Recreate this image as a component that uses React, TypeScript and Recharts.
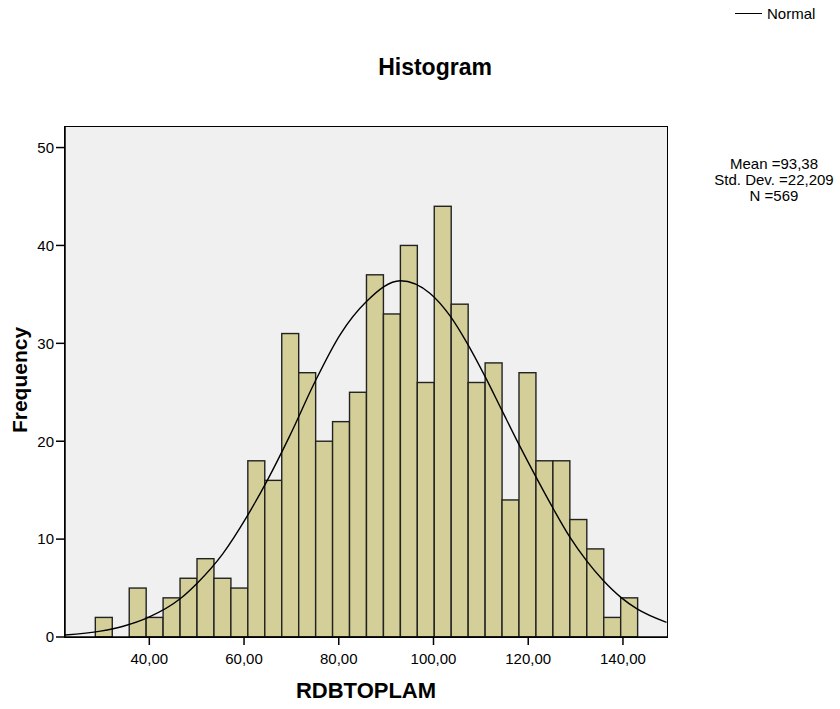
import React from "react";
import {
  ComposedChart,
  Bar,
  Line,
  XAxis,
  YAxis,
  CartesianGrid,
} from "recharts";

// bin centres (RDBTOPLAM) and counts
const binCenters = [
  30.39, 33.97, 37.55, 41.12, 44.7, 48.28, 51.86, 55.44, 59.01, 62.59, 66.17,
  69.75, 73.33, 76.91, 80.48, 84.06, 87.64, 91.22, 94.8, 98.37, 101.95, 105.53,
  109.11, 112.69, 116.26, 119.84, 123.42, 127.0, 130.58, 134.16, 137.73, 141.31,
];
const binCounts = [
  2, 0, 5, 2, 4, 6, 8, 6, 5, 18, 16, 31, 27, 20, 22, 25, 37, 33, 40, 26, 44, 34,
  26, 28, 14, 27, 18, 18, 12, 9, 2, 4,
];
const BIN_WIDTH = 3.578;

// normal curve, points
const curveX = [
  22.2, 29.7, 34.5, 39.8, 46.5, 50.1, 55.5, 60.6, 64.8, 69.7, 75.0, 80.3,
  85.9, 93.0, 99.3, 103.5, 107.0, 110.9, 114.4, 117.9, 121.8, 125.3, 128.8,
  132.3, 135.8, 139.7, 142.9, 149.2,
];
const curveY = [
  0.2, 0.6, 1.1, 2.0, 3.9, 5.5, 8.5, 12.3, 15.9, 20.6, 26.1, 30.9,
  34.3, 36.4, 35.1, 32.8, 30.1, 26.6, 23.2, 19.8, 16.2, 13.1, 10.2, 7.8, 5.8,
  4.0, 2.9, 1.5,
];

const xTicks = [40, 60, 80, 100, 120, 140];
const yTicks = [0, 10, 20, 30, 40, 50];

const X_MIN = 22.2;
const X_MAX = 149.3;
const Y_MAX = 52.1;

const CHART_W = 840;
const CHART_H = 709;
const MARGIN = { top: 127, right: 173, bottom: 42, left: 15 };
const Y_AXIS_W = 50;
const X_AXIS_H = 30;
const PLOT_W = CHART_W - MARGIN.left - MARGIN.right - Y_AXIS_W;
const PLOT_H = CHART_H - MARGIN.top - MARGIN.bottom - X_AXIS_H;

const FONT = "'Liberation Sans', Arial, sans-serif";

const bins = binCenters.map((x, i) => ({ x, count: binCounts[i] }));
const curve = curveX.map((x, i) => ({ x, normal: curveY[i] }));

const fmt = (v: number) => v.toFixed(2).replace(".", ",");

// draws a bin at its full width, centred where recharts put it
const BinShape = (props: any) => {
  const { x, y, width, height } = props;
  if (height == null || height <= 0) return null;
  const cx = x + width / 2;
  const w = (BIN_WIDTH * PLOT_W) / (X_MAX - X_MIN);
  return (
    <rect
      x={cx - w / 2}
      y={y}
      width={w}
      height={height}
      fill="#d4cf99"
      stroke="#222"
      strokeWidth={1.4}
    />
  );
};

export default function App() {
  return (
    <div
      style={{
        position: "absolute",
        left: 0,
        top: 0,
        width: CHART_W,
        height: CHART_H,
        background: "#fff",
        fontFamily: FONT,
      }}
    >
      <ComposedChart
        width={CHART_W}
        height={CHART_H}
        data={bins}
        margin={MARGIN}
        barCategoryGap={0}
        barGap={0}
      >
        <CartesianGrid fill="#f0f0f0" horizontal={false} vertical={false} />
        <XAxis
          dataKey="x"
          type="number"
          domain={[X_MIN, X_MAX]}
          ticks={xTicks}
          tickFormatter={fmt}
          allowDataOverflow
          height={X_AXIS_H}
          tickSize={8}
          tickMargin={8}
          tick={{ fill: "#000", fontSize: 15, fontFamily: FONT }}
          axisLine={{ stroke: "#000", strokeWidth: 1.5 }}
          tickLine={{ stroke: "#000", strokeWidth: 1.5 }}
        />
        <YAxis
          type="number"
          domain={[0, Y_MAX]}
          ticks={yTicks}
          allowDataOverflow
          width={Y_AXIS_W}
          tickSize={9}
          tickMargin={2}
          tick={{ fill: "#000", fontSize: 15, fontFamily: FONT }}
          axisLine={{ stroke: "#000", strokeWidth: 1.5 }}
          tickLine={{ stroke: "#000", strokeWidth: 1.5 }}
        />
        <Bar dataKey="count" shape={BinShape} isAnimationActive={false} />
        <Line
          data={curve}
          dataKey="normal"
          type="monotone"
          stroke="#000"
          strokeWidth={1.4}
          dot={false}
          activeDot={false}
          isAnimationActive={false}
        />
      </ComposedChart>

      {/* plot frame */}
      <div
        style={{
          position: "absolute",
          left: MARGIN.left + Y_AXIS_W - 0.75,
          top: MARGIN.top - 0.75,
          width: PLOT_W,
          height: PLOT_H,
          border: "1.5px solid #000",
          pointerEvents: "none",
        }}
      />

      <div
        style={{
          position: "absolute",
          left: 335,
          width: 200,
          top: 54,
          textAlign: "center",
          fontSize: 23,
          fontWeight: "bold",
        }}
      >
        Histogram
      </div>
      <div
        style={{
          position: "absolute",
          left: 266,
          width: 200,
          top: 678,
          textAlign: "center",
          fontSize: 22,
          fontWeight: "bold",
        }}
      >
        RDBTOPLAM
      </div>
      <div
        style={{
          position: "absolute",
          left: 20,
          top: 380,
          transform: "translate(-50%, -50%) rotate(-90deg)",
          fontSize: 21,
          fontWeight: "bold",
          whiteSpace: "nowrap",
        }}
      >
        Frequency
      </div>
      <div
        style={{
          position: "absolute",
          left: 694,
          width: 160,
          top: 156,
          textAlign: "center",
          fontSize: 15,
          lineHeight: "16px",
        }}
      >
        <div>Mean =93,38</div>
        <div>Std. Dev. =22,209</div>
        <div>N =569</div>
      </div>
      <div
        style={{
          position: "absolute",
          left: 735,
          top: 5,
          display: "flex",
          alignItems: "center",
          fontSize: 15,
        }}
      >
        <span
          style={{
            display: "inline-block",
            width: 27,
            height: 0,
            borderTop: "1.5px solid #000",
            marginRight: 5,
          }}
        />
        Normal
      </div>
    </div>
  );
}
